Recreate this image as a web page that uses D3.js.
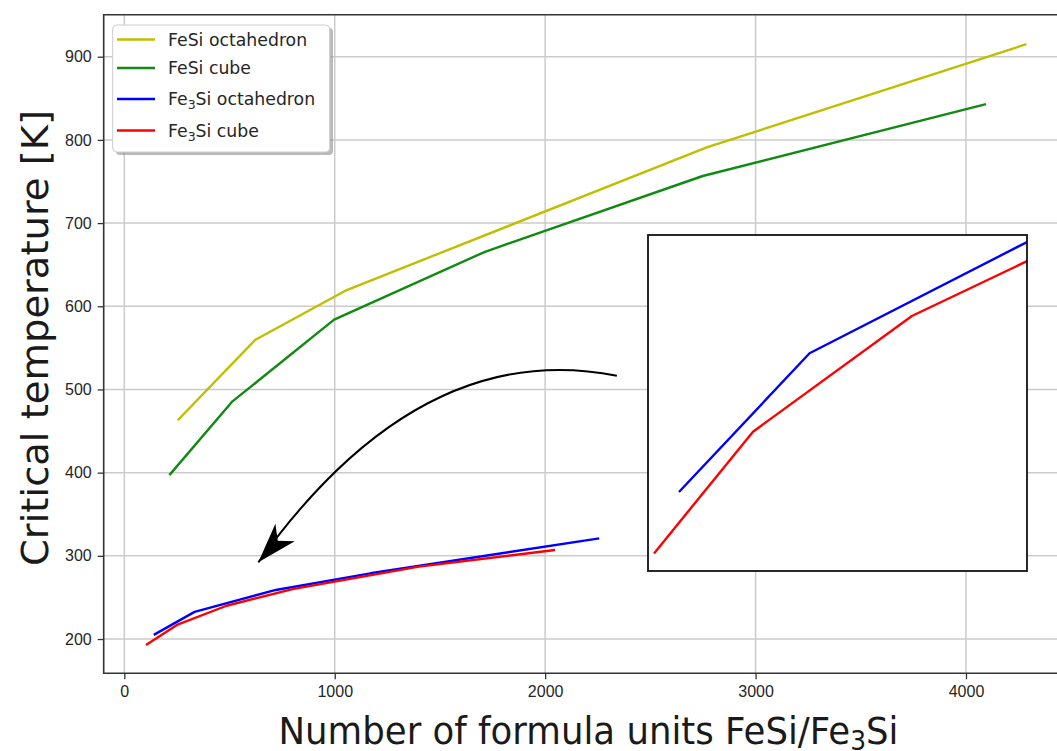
<!DOCTYPE html>
<meta charset="utf-8">
<style>
body { margin: 0; background: #fff; }
svg { display: block; font-family: "DejaVu Sans", sans-serif; }
.grid line { stroke: #cbcbcb; stroke-width: 1.5px; }
.tick text { font-size: 16px; fill: #262626; }
.tick line { stroke: #333; stroke-width: 1.3px; }
.series { fill: none; stroke-width: 2.4px; stroke-linejoin: round; }
</style>
<body>
<script src="https://d3js.org/d3.v7.min.js"></script>
<script>

// FeSi data (formula units, critical temperature K)
var fesiOctX = [254, 621, 1057, 2768, 4287];
var fesiOctY = [463, 559.4, 619.5, 791, 915];
var fesiCubeX = [214, 511, 997, 1714, 2749, 4095];
var fesiCubeY = [397, 485, 584, 665.5, 756.6, 843];

// Fe3Si data
var fe3OctX = [140, 334, 720, 1170, 2257];
var fe3OctY = [205, 232.6, 259, 279, 321];
var fe3CubeX = [103, 250, 486, 800, 1400, 2047];
var fe3CubeY = [192.8, 217, 240, 260, 287, 307];

var xTicks = [0, 1000, 2000, 3000, 4000];
var yTicks = [200, 300, 400, 500, 600, 700, 800, 900];

// inset view limits
var insetXLim = [94, 657];
var insetYLim = [189.3, 256.1];

// arrow: start, control, end (data coords)
var arrowPts = [[2341, 516.5], [1406, 563.9], [637, 292.2]];

var series = [
  {name: "FeSi octahedron", sub: null, color: "#bfbf00", xs: fesiOctX, ys: fesiOctY},
  {name: "FeSi cube", sub: null, color: "#118a11", xs: fesiCubeX, ys: fesiCubeY},
  {name: "octahedron", sub: "Fe3Si", color: "#0000ff", xs: fe3OctX, ys: fe3OctY},
  {name: "cube", sub: "Fe3Si", color: "#ff0000", xs: fe3CubeX, ys: fe3CubeY}
];
series.forEach(function(s) {
  s.pts = s.xs.map(function(v, i) { return [v, s.ys[i]]; });
});

var W = 1057, H = 751;
var plot = {left: 103.7, right: 1073.3, top: 14.7, bottom: 673.3};

var x = d3.scaleLinear().domain([-98, 4510]).range([plot.left, plot.right]);
var y = d3.scaleLinear().domain([158.8, 950.5]).range([plot.bottom, plot.top]);

var svg = d3.select("body").append("svg")
    .attr("width", W)
    .attr("height", H);

svg.append("clipPath").attr("id", "plotclip")
  .append("rect")
    .attr("x", plot.left).attr("y", plot.top)
    .attr("width", plot.right - plot.left).attr("height", plot.bottom - plot.top);

// grid
var grid = svg.append("g").attr("class", "grid");
grid.selectAll(".gx").data(xTicks).enter().append("line")
    .attr("x1", d => x(d)).attr("x2", d => x(d))
    .attr("y1", plot.top).attr("y2", plot.bottom);
grid.selectAll(".gy").data(yTicks).enter().append("line")
    .attr("x1", plot.left).attr("x2", plot.right)
    .attr("y1", d => y(d)).attr("y2", d => y(d));

// main lines
var line = d3.line().x(d => x(d[0])).y(d => y(d[1]));
var main = svg.append("g").attr("clip-path", "url(#plotclip)");
main.selectAll(".series").data(series).enter().append("path")
    .attr("class", "series")
    .attr("stroke", d => d.color)
    .attr("d", d => line(d.pts));

// axes
svg.append("g")
    .attr("transform", "translate(0," + plot.bottom + ")")
    .call(d3.axisBottom(x).tickValues(xTicks).tickFormat(d3.format("d")).tickSize(6).tickPadding(6))
    .call(g => g.select(".domain").remove());
svg.append("g")
    .attr("transform", "translate(" + plot.left + ",0)")
    .call(d3.axisLeft(y).tickValues(yTicks).tickFormat(d3.format("d")).tickSize(6).tickPadding(6))
    .call(g => g.select(".domain").remove());

// spines
svg.append("path")
    .attr("d", "M" + plot.right + "," + plot.top + "H" + plot.left + "V" + plot.bottom + "H" + plot.right)
    .attr("fill", "none")
    .attr("stroke", "#333")
    .attr("stroke-width", 1.6);

// axis labels
svg.append("text")
    .attr("x", (plot.left + plot.right) / 2)
    .attr("y", 744)
    .attr("text-anchor", "middle")
    .attr("font-size", 37)
    .attr("fill", "#1a1a1a")
    .attr("textLength", 620)
    .attr("lengthAdjust", "spacingAndGlyphs")
    .call(t => {
      t.append("tspan").text("Number of formula units FeSi/Fe");
      t.append("tspan").attr("font-size", 26).attr("dy", 6).text("3");
      t.append("tspan").attr("dy", -6).text("Si");
    });

svg.append("text")
    .attr("transform", "translate(48,338) rotate(-90)")
    .attr("text-anchor", "middle")
    .attr("font-size", 38)
    .attr("fill", "#1a1a1a")
    .attr("textLength", 456)
    .attr("lengthAdjust", "spacingAndGlyphs")
    .text("Critical temperature [K]");

// arrow
var ap = arrowPts.map(p => [x(p[0]), y(p[1])]);
svg.append("path")
    .attr("d", "M" + ap[0] + "Q" + ap[1] + " " + ap[2])
    .attr("fill", "none")
    .attr("stroke", "#000")
    .attr("stroke-width", 2);
(function() {
  var t = 0.7, a = (1 - t) * (1 - t), b = 2 * t * (1 - t), c = t * t;
  var bx = a * ap[0][0] + b * ap[1][0] + c * ap[2][0];
  var by = a * ap[0][1] + b * ap[1][1] + c * ap[2][1];
  var dx = ap[2][0] - bx, dy = ap[2][1] - by, len = Math.hypot(dx, dy);
  var ux = dx / len, uy = dy / len, nx = -uy, ny = ux;
  var tip = ap[2], L = 40, Wd = 13, notch = 29;
  var p1 = [tip[0] - ux * L + nx * Wd, tip[1] - uy * L + ny * Wd];
  var p2 = [tip[0] - ux * notch, tip[1] - uy * notch];
  var p3 = [tip[0] - ux * L - nx * Wd, tip[1] - uy * L - ny * Wd];
  svg.append("path")
      .attr("d", "M" + tip + "L" + p1 + "L" + p2 + "L" + p3 + "Z")
      .attr("fill", "#000");
})();

// inset
var inset = {left: 648, right: 1027, top: 235, bottom: 571};
var ix = d3.scaleLinear().domain(insetXLim).range([inset.left, inset.right]);
var iy = d3.scaleLinear().domain(insetYLim).range([inset.bottom, inset.top]);
svg.append("clipPath").attr("id", "insetclip")
  .append("rect")
    .attr("x", inset.left).attr("y", inset.top)
    .attr("width", inset.right - inset.left).attr("height", inset.bottom - inset.top);
svg.append("rect")
    .attr("x", inset.left).attr("y", inset.top)
    .attr("width", inset.right - inset.left).attr("height", inset.bottom - inset.top)
    .attr("fill", "#fff");
var iline = d3.line().x(d => ix(d[0])).y(d => iy(d[1]));
svg.append("g").attr("clip-path", "url(#insetclip)")
  .selectAll("path").data(series.slice(2)).enter().append("path")
    .attr("class", "series")
    .attr("stroke", d => d.color)
    .attr("stroke-width", 2)
    .attr("d", d => iline(d.pts));
svg.append("rect")
    .attr("x", inset.left).attr("y", inset.top)
    .attr("width", inset.right - inset.left).attr("height", inset.bottom - inset.top)
    .attr("fill", "none")
    .attr("stroke", "#111")
    .attr("stroke-width", 1.8);

// legend
var leg = svg.append("g");
leg.append("rect")
    .attr("x", 116).attr("y", 28).attr("width", 217).attr("height", 127)
    .attr("rx", 4).attr("fill", "#8c8c8c").attr("opacity", 0.6);
leg.append("rect")
    .attr("x", 112.7).attr("y", 25).attr("width", 217).attr("height", 127)
    .attr("rx", 4).attr("fill", "#fff").attr("stroke", "#cccccc").attr("stroke-width", 1);
var rowY = [39.5, 68, 99, 130.5];
var items = leg.selectAll(".item").data(series).enter().append("g")
    .attr("transform", (d, i) => "translate(0," + rowY[i] + ")");
items.append("line")
    .attr("x1", 117).attr("x2", 155)
    .attr("stroke", d => d.color).attr("stroke-width", 2.4);
items.append("text")
    .attr("x", 168).attr("dy", "0.35em")
    .attr("font-size", 17.3)
    .attr("fill", "#262626")
    .each(function(d) {
      var t = d3.select(this);
      if (!d.sub) { t.text(d.name); return; }
      t.append("tspan").text("Fe");
      t.append("tspan").attr("font-size", 12.5).attr("dy", 4).text("3");
      t.append("tspan").attr("dy", -4).text("Si " + d.name);
    });

</script>
</body>
